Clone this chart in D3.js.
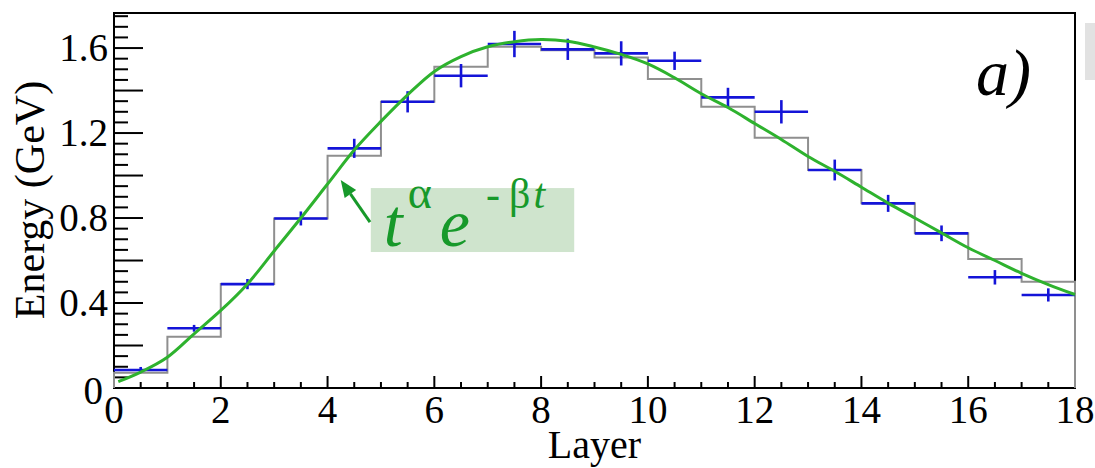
<!DOCTYPE html>
<html><head><meta charset="utf-8">
<script src="https://cdn.jsdelivr.net/npm/d3@7"></script>
<style>
html,body{margin:0;padding:0;background:#fff;}
svg{display:block;}
</style>
</head><body>
<svg id="c" width="1095" height="468"></svg>
<script>
// ---- data ----
const binLow = [0,1,2,3,4,5,6,7,8,9,10,11,12,13,14,15,16,17];
const simValues = [0.072,0.241,0.489,0.798,1.093,1.347,1.512,1.606,1.590,1.556,1.454,1.324,1.178,1.026,0.869,0.728,0.607,0.500];
const dataValues = [0.085,0.281,0.489,0.798,1.128,1.347,1.470,1.619,1.594,1.575,1.540,1.368,1.300,1.026,0.869,0.728,0.521,0.438];
const dataErrors = [0.014,0.016,0.024,0.033,0.045,0.050,0.055,0.062,0.050,0.057,0.043,0.045,0.055,0.049,0.040,0.037,0.034,0.031];
const fitX = [0.08,0.5,1,1.5,2,2.5,3,3.5,4,4.5,5,5.5,6,6.5,7,7.5,8,8.5,9,9.5,10,10.5,11,11.5,12,12.5,13,13.5,14,14.5,15,15.5,16,16.5,17,17.5,18];
const fitY = [0.03,0.075,0.145,0.255,0.365,0.49,0.645,0.80,0.96,1.12,1.255,1.38,1.49,1.56,1.606,1.63,1.64,1.632,1.605,1.57,1.525,1.46,1.385,1.32,1.245,1.17,1.09,1.02,0.945,0.87,0.80,0.73,0.66,0.60,0.54,0.487,0.44];
const xTickLabels = [0,2,4,6,8,10,12,14,16,18];
const yTickLabels = [0,0.4,0.8,1.2,1.6];
const xTitle = "Layer";
const yTitle = "Energy (GeV)";
const panelLabel = "a)";

// ---- layout ----
const FONT = "Liberation Serif";
const L = 114, R = 1075, T = 13, B = 388;
const svg = d3.select("#c");
const x = d3.scaleLinear().domain([0,18]).range([L,R]);
const y = d3.scaleLinear().domain([0,1.765]).range([B,T]);

const cGrey = "#8f8f8f", cBlue = "#1414d8", cGreen = "#2eb22e", cText = "#17992a";

// stats box remnant at right edge
svg.append("rect").attr("x",1085).attr("y",23).attr("width",12).attr("height",57).attr("fill","#e2e2e2");

// frame
svg.append("rect").attr("x",L).attr("y",T).attr("width",R-L).attr("height",B-T)
  .attr("fill","none").attr("stroke","#000").attr("stroke-width",2);

// y ticks (inward)
const yMinor = d3.range(0,1.7651,0.05).map(v=>+v.toFixed(2));
const yAxisG = svg.append("g");
yAxisG.selectAll("line").data(yMinor).join("line")
  .attr("x1",L).attr("x2",d=> (Math.abs(d/0.2-Math.round(d/0.2))<1e-6) ? L+29 : L+14)
  .attr("y1",d=>y(d)).attr("y2",d=>y(d))
  .attr("stroke","#000").attr("stroke-width",2);
yAxisG.selectAll("text").data(yTickLabels).join("text")
  .attr("font-family",FONT)
  .attr("x",d=> d===0 ? L-11 : L-6)
  .attr("y",d=> y(d)+ (d===0 ? 16 : 13))
  .attr("text-anchor","end").attr("font-size",39).attr("fill","#000")
  .text(d=>d===0?"0":d3.format(".1f")(d));

// x ticks (inward)
const xMinor = d3.range(0,18.001,0.5);
const xAxisG = svg.append("g");
xAxisG.selectAll("line").data(xMinor).join("line")
  .attr("x1",d=>x(d)).attr("x2",d=>x(d))
  .attr("y1",B).attr("y2",d=> (d%2===0) ? B-12 : B-6)
  .attr("stroke","#000").attr("stroke-width",2);
xAxisG.selectAll("text").data(xTickLabels).join("text")
  .attr("font-family",FONT)
  .attr("x",d=>x(d)).attr("y",423)
  .attr("text-anchor","middle").attr("font-size",39).attr("fill","#000")
  .text(d=>d);

// titles
svg.append("text").attr("font-family",FONT).attr("x",(L+R)/2).attr("y",458).attr("text-anchor","middle")
  .attr("font-size",40).text(xTitle);
svg.append("text").attr("font-family",FONT).attr("transform","translate(44,200) rotate(-90)").attr("text-anchor","middle")
  .attr("font-size",42).text(yTitle);

// grey histogram
const histPts = [[0,0]];
binLow.forEach((b,i)=>{ histPts.push([b,simValues[i]]); histPts.push([b+1,simValues[i]]); });
histPts.push([18,0]);
svg.append("path").datum(histPts)
  .attr("d",d3.line().x(d=>x(d[0])).y(d=>y(d[1])))
  .attr("fill","none").attr("stroke",cGrey).attr("stroke-width",2);

// blue data crosses
const pts = svg.append("g").attr("stroke",cBlue).attr("stroke-width",2.6);
pts.selectAll("line.h").data(binLow).join("line").attr("class","h")
  .attr("x1",d=>x(d)).attr("x2",d=>x(d+1))
  .attr("y1",(d,i)=>y(dataValues[i])).attr("y2",(d,i)=>y(dataValues[i]));
pts.selectAll("line.v").data(binLow).join("line").attr("class","v")
  .attr("x1",d=>x(d+0.5)).attr("x2",d=>x(d+0.5))
  .attr("y1",(d,i)=>y(dataValues[i]-dataErrors[i])).attr("y2",(d,i)=>y(dataValues[i]+dataErrors[i]));

// green fit curve
svg.append("path").datum(fitX.map((v,i)=>[v,fitY[i]]))
  .attr("d",d3.line().x(d=>x(d[0])).y(d=>y(d[1])).curve(d3.curveCatmullRom))
  .attr("fill","none").attr("stroke",cGreen).attr("stroke-width",3);

// annotation box
const boxX0 = 4.81, boxX1 = 8.62, boxY0 = 0.941, boxY1 = 0.64;
svg.append("rect").attr("x",x(boxX0)).attr("y",y(boxY0))
  .attr("width",x(boxX1)-x(boxX0)).attr("height",y(boxY1)-y(boxY0))
  .attr("fill","#cfe4cd");
const fx = svg.append("text").attr("font-family",FONT).attr("x",x(boxX0)+13).attr("y",y(boxY1)-6)
  .attr("font-size",68).attr("fill",cText);
fx.append("tspan").attr("font-style","italic").text("t");
fx.append("tspan").attr("font-size",46).attr("dx",5).attr("dy",-38).text("α");
fx.append("tspan").attr("font-style","italic").attr("dx",8).attr("dy",38).text("e");
fx.append("tspan").attr("font-size",42).attr("dx",16).attr("dy",-38).text("-");
fx.append("tspan").attr("font-size",42).attr("dx",9).text("β");
fx.append("tspan").attr("font-size",42).attr("dx",3).attr("font-style","italic").text("t");

// arrow
const arrTail = [4.795,0.781], arrTip = [4.246,0.979];
const ax0 = x(arrTail[0]), ay0 = y(arrTail[1]), ax1 = x(arrTip[0]), ay1 = y(arrTip[1]);
const ang = Math.atan2(ay1-ay0, ax1-ax0);
const hl = 17, hw = 7;
const bx = ax1 - hl*Math.cos(ang), by = ay1 - hl*Math.sin(ang);
svg.append("line").attr("x1",ax0).attr("y1",ay0).attr("x2",bx).attr("y2",by)
  .attr("stroke",cText).attr("stroke-width",3);
svg.append("path")
  .attr("d",`M${ax1},${ay1}L${bx+hw*Math.sin(ang)},${by-hw*Math.cos(ang)}L${bx-hw*Math.sin(ang)},${by+hw*Math.cos(ang)}Z`)
  .attr("fill",cText);

// panel label
svg.append("text").attr("font-family",FONT).attr("x",976).attr("y",95).attr("font-size",66).attr("font-style","italic")
  .text(panelLabel);
</script>
</body></html>
